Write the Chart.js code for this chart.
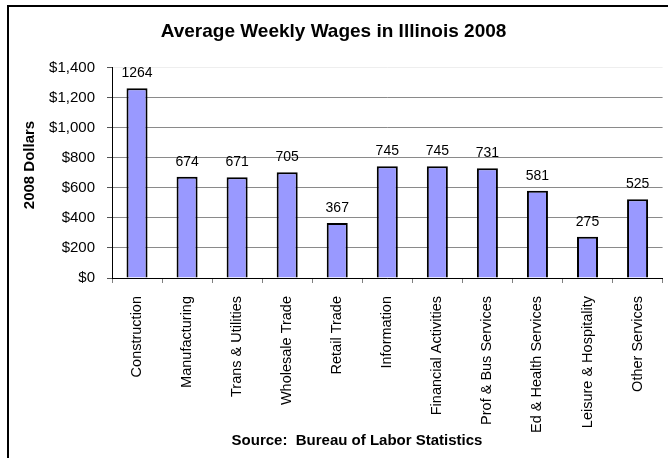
<!DOCTYPE html>
<html>
<head>
<meta charset="utf-8">
<title>Average Weekly Wages in Illinois 2008</title>
<script src="https://cdn.jsdelivr.net/npm/chart.js@4.4.1/dist/chart.umd.min.js"></script>
<style>
  html, body { margin: 0; padding: 0; background: #fff; }
  #wageChart { display: block; }
</style>
</head>
<body>
<canvas id="wageChart" width="668" height="458"></canvas>
<script>
const industries = [
    'Construction', 'Manufacturing', 'Trans & Utilities', 'Wholesale Trade',
    'Retail Trade', 'Information', 'Financial Activities', 'Prof & Bus Services',
    'Ed & Health Services', 'Leisure & Hospitality', 'Other Services'
];
const weeklyWages = [1264, 674, 671, 705, 367, 745, 745, 731, 581, 275, 525];
const yTickLabels = ['$0', '$200', '$400', '$600', '$800', '$1,000', '$1,200', '$1,400'];

const FONT = "'Liberation Sans', Arial, sans-serif";

// value above each bar, the frame, the y title and the source line
const extras = {
    id: 'extras',
    afterDatasetsDraw(chart) {
        const ctx = chart.ctx;
        const meta = chart.getDatasetMeta(0);
        ctx.save();
        ctx.fillStyle = '#000';
        ctx.font = '14px ' + FONT;
        ctx.textAlign = 'center';
        ctx.textBaseline = 'alphabetic';
        meta.data.forEach((bar, i) => {
            ctx.fillText(String(weeklyWages[i]), bar.x, bar.y - 11);
        });
        ctx.restore();
    },
    afterDraw(chart) {
        const ctx = chart.ctx;
        ctx.save();
        ctx.strokeStyle = '#000';
        ctx.lineWidth = 2;
        ctx.beginPath();
        ctx.moveTo(8, chart.height);
        ctx.lineTo(8, 6);
        ctx.lineTo(chart.width, 6);
        ctx.stroke();

        ctx.fillStyle = '#000';
        ctx.font = 'bold 15px ' + FONT;
        ctx.textAlign = 'center';
        ctx.textBaseline = 'middle';
        ctx.fillText('Source:  Bureau of Labor Statistics', 357, 441);

        ctx.translate(30, 165);
        ctx.rotate(-Math.PI / 2);
        ctx.fillText('2008 Dollars', 0, 0);
        ctx.restore();
    }
};

const ctx = document.getElementById('wageChart').getContext('2d');
const wageChart = new Chart(ctx, {
    type: 'bar',
    data: {
        labels: industries,
        datasets: [{
            data: weeklyWages,
            backgroundColor: '#9999ff',
            borderColor: '#000',
            borderWidth: 2,
            barPercentage: 0.42,
            categoryPercentage: 1
        }]
    },
    options: {
        responsive: false,
        animation: false,
        layout: {
            padding: { top: 0, right: 1, bottom: 0, left: 0 }
        },
        plugins: {
            legend: { display: false },
            tooltip: { enabled: false },
            title: {
                display: true,
                text: 'Average Weekly Wages in Illinois 2008',
                color: '#000',
                font: { family: FONT, size: 19, weight: 'bold' },
                padding: { top: 20, bottom: 25 }
            }
        },
        scales: {
            x: {
                grid: {
                    offset: true,
                    drawOnChartArea: false,
                    tickLength: 5,
                    color: '#808080'
                },
                border: { color: '#000', width: 1 },
                ticks: {
                    autoSkip: false,
                    minRotation: 90,
                    maxRotation: 90,
                    padding: 13,
                    color: '#000',
                    font: { family: FONT, size: 14.5 }
                },
                afterFit(scale) { scale.height = 180; }
            },
            y: {
                min: 0,
                max: 1400,
                ticks: {
                    stepSize: 200,
                    padding: 12,
                    color: '#000',
                    font: { family: FONT, size: 15 },
                    callback: (value, index) => yTickLabels[index]
                },
                grid: {
                    color: c => (c.tick && c.tick.value === 1400) ? '#eeeeee' : '#8a8a8a',
                    tickColor: '#555',
                    tickLength: 5
                },
                border: { color: '#000', width: 1 },
                afterFit(scale) { scale.width = 112; }
            }
        }
    },
    plugins: [extras]
});
</script>
</body>
</html>
